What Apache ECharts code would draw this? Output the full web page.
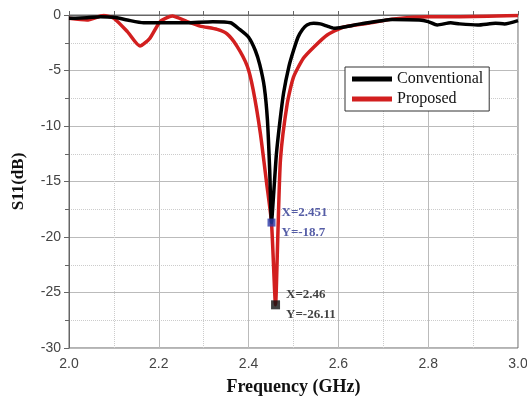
<!DOCTYPE html>
<html>
<head>
<meta charset="utf-8">
<script src="https://cdn.jsdelivr.net/npm/echarts@6/dist/echarts.min.js"></script>
<style>
    html, body { margin: 0; padding: 0; background: #fff; }
    #chart { width: 527px; height: 400px; }
</style>
</head>
<body>
<div id="chart"></div>
<script>
    // Conventional antenna
    var freqConv = [2.00, 2.04, 2.07, 2.10, 2.13, 2.166, 2.20, 2.26, 2.32, 2.36, 2.38, 2.40, 2.415, 2.425, 2.435, 2.442, 2.447, 2.451,
        2.456, 2.462, 2.47, 2.478, 2.49, 2.50, 2.51, 2.52, 2.53, 2.545, 2.56, 2.575, 2.59, 2.61, 2.65, 2.72, 2.78, 2.80,
        2.82, 2.85, 2.87, 2.91, 2.95, 2.97, 3.00];
    var s11Conv = [-0.3, -0.25, -0.15, -0.2, -0.45, -0.7, -0.7, -0.7, -0.6, -0.7, -1.3, -2.0, -3.2, -4.5, -6.5, -9.5, -14, -18.7,
        -16, -12.5, -9.5, -7, -4.6, -3.2, -2.0, -1.3, -0.9, -0.75, -0.8, -1.0, -1.2, -1.1, -0.8, -0.4, -0.45, -0.6,
        -0.9, -0.7, -0.8, -0.9, -0.75, -0.8, -0.5];

    // Proposed antenna
    var freqProp = [2.00, 2.04, 2.077, 2.10, 2.13, 2.158, 2.18, 2.203, 2.23, 2.263, 2.292, 2.33, 2.352, 2.374, 2.397, 2.41, 2.426,
        2.44, 2.451, 2.46, 2.465, 2.471, 2.486, 2.50, 2.522, 2.545, 2.575, 2.61, 2.665, 2.724, 2.80, 2.87, 3.00];
    var s11Prop = [-0.3, -0.45, -0.05, -0.3, -1.5, -2.8, -2.1, -0.6, -0.1, -0.6, -1.0, -1.3, -1.7, -2.8, -4.6, -6.7, -10.6,
        -15.1, -18.7, -26.11, -20, -13, -8, -5.6, -3.9, -2.9, -1.8, -1.1, -0.75, -0.35, -0.15, -0.15, -0.05];

    // marked minima
    var markConv = [2.451, -18.7];
    var markProp = [2.46, -26.11];

    function pairs(xs, ys) {
        var out = [];
        xs.forEach(function (x, i) { out.push([x, ys[i]]); });
        return out;
    }

    var chart = echarts.init(document.getElementById('chart'));
    var serif = '"Liberation Serif", "Times New Roman", serif';
    var sans = '"Liberation Sans", Arial, sans-serif';

    chart.setOption({
        animation: false,
        grid: {
            left: 69, right: 9, top: 15, bottom: 52,
            outerBoundsMode: 'none',
            show: true, borderColor: '#666', borderWidth: 1
        },
        legend: {
            left: 345, top: 67,
            orient: 'vertical',
            itemWidth: 40, itemHeight: 5, itemGap: 4,
            icon: 'rect',
            borderColor: '#333', borderWidth: 1, borderRadius: 0,
            padding: [4, 6, 4, 7],
            backgroundColor: '#fff',
            textStyle: { fontFamily: serif, fontSize: 16, color: '#111' },
            data: ['Conventional', 'Proposed']
        },
        xAxis: {
            type: 'value', min: 2, max: 3, interval: 0.2,
            name: 'Frequency (GHz)', nameLocation: 'middle', nameGap: 30,
            nameTextStyle: { fontFamily: serif, fontWeight: 'bold', fontSize: 18, color: '#111' },
            axisLine: { lineStyle: { color: '#666' } },
            axisTick: { inside: true, length: 4, lineStyle: { color: '#666' } },
            minorTick: { show: true, splitNumber: 2, length: 4, lineStyle: { color: '#666' } },
            axisLabel: { fontFamily: sans, fontSize: 14, color: '#444', margin: 9,
                formatter: function (v) { return v.toFixed(1); } },
            splitLine: { show: true, lineStyle: { color: '#bbb', width: 1 } },
            minorSplitLine: { show: true, lineStyle: { color: '#ccc', type: 'dotted' } }
        },
        yAxis: {
            type: 'value', min: -30, max: 0, interval: 5,
            name: 'S11(dB)', nameLocation: 'middle', nameGap: 42,
            nameTextStyle: { fontFamily: serif, fontWeight: 'bold', fontSize: 17, color: '#111' },
            axisLine: { show: true, lineStyle: { color: '#666' } },
            axisTick: { show: true, length: 5, lineStyle: { color: '#666' } },
            minorTick: { show: true, splitNumber: 2, length: 4, lineStyle: { color: '#666' } },
            axisLabel: { fontFamily: sans, fontSize: 14, color: '#444', margin: 8 },
            splitLine: { show: true, lineStyle: { color: '#bbb', width: 1 } },
            minorSplitLine: { show: true, lineStyle: { color: '#ccc', type: 'dotted' } }
        },
        series: [
            {
                name: 'Conventional', type: 'line', smooth: 0.2,
                showSymbol: false, symbol: 'none',
                lineStyle: { color: '#000', width: 3.5 },
                itemStyle: { color: '#000' },
                z: 3,
                data: pairs(freqConv, s11Conv)
            },
            {
                name: 'Proposed', type: 'line', smooth: 0.2,
                showSymbol: false, symbol: 'none',
                lineStyle: { color: '#d21f1f', width: 3.5 },
                itemStyle: { color: '#d21f1f' },
                z: 2,
                data: pairs(freqProp, s11Prop)
            },
            {
                type: 'scatter', symbol: 'rect', symbolSize: 8, z: 5,
                itemStyle: { color: '#2b3aa8' },
                label: {
                    show: true, position: 'right', distance: 6,
                    fontFamily: serif, fontWeight: 'bold', fontSize: 13, lineHeight: 20,
                    color: '#2a3590',
                    formatter: function (p) { return 'X=' + p.value[0] + '\nY=' + p.value[1]; }
                },
                data: [markConv]
            },
            {
                type: 'scatter', symbol: 'rect', symbolSize: 9, z: 5,
                itemStyle: { color: '#111' },
                label: {
                    show: true, position: 'right', distance: 6,
                    fontFamily: serif, fontWeight: 'bold', fontSize: 13, lineHeight: 20,
                    color: '#111',
                    formatter: function (p) { return 'X=' + p.value[0] + '\nY=' + p.value[1]; }
                },
                data: [markProp]
            }
        ]
    });
</script>
</body>
</html>
